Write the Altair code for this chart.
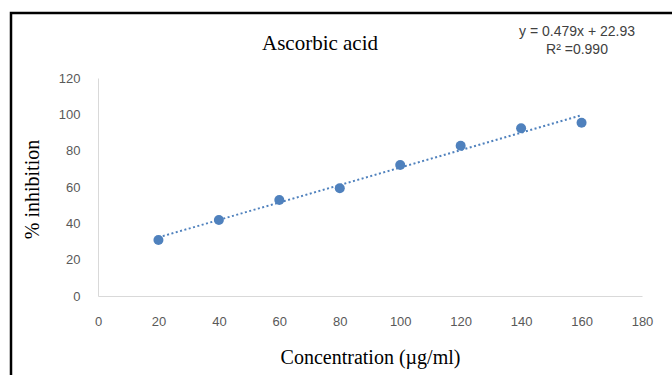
import altair as alt
import pandas as pd

concentration = [20, 40, 60, 80, 100, 120, 140, 160]
inhibition = [30.8, 41.8, 52.8, 59.3, 72.1, 82.7, 92.3, 95.4]
x_ticks = [0, 20, 40, 60, 80, 100, 120, 140, 160, 180]
y_ticks = [0, 20, 40, 60, 80, 100, 120]
chart_title = "Ascorbic acid"
equation_lines = ["y = 0.479x + 22.93", "R² =0.990"]

df = pd.DataFrame({"conc": concentration, "inh": inhibition})

BLUE = "#4f81bd"
W, H = 544, 218
PL, PT = 98, 78

x_enc = alt.X("conc:Q", scale=alt.Scale(domain=[0, 180], nice=False, zero=True),
              axis=alt.Axis(values=x_ticks, title="Concentration (µg/ml)", grid=False,
                            ticks=False, domainColor="#d9d9d9", labelColor="#595959",
                            labelFont="Liberation Sans", labelFontSize=13, labelPadding=19,
                            labelFlush=False,
                            titleFont="Liberation Serif", titleFontSize=20, titleFontWeight="normal",
                            titleColor="#000000", titleY=61, titleBaseline="middle"))
y_enc = alt.Y("inh:Q", scale=alt.Scale(domain=[0, 120], nice=False),
              axis=alt.Axis(values=y_ticks, title="% inhibition", grid=False,
                            ticks=False, domainColor="#d9d9d9", labelColor="#595959",
                            labelFont="Liberation Sans", labelFontSize=13, labelPadding=18,
                            labelFlush=False,
                            titleFont="Liberation Serif", titleFontSize=20, titleFontWeight="normal",
                            titleColor="#000000", titleX=-66, titleY=111, titleBaseline="middle",
                            titleAngle=270))

base = alt.Chart(df)

trend = base.transform_regression("conc", "inh", extent=[20, 160]).mark_line(
    color=BLUE, strokeWidth=2, strokeDash=[2, 2.5]
).encode(x=x_enc, y=y_enc)

points = base.mark_point(filled=True, color=BLUE, size=100, opacity=1).encode(x=x_enc, y=y_enc)

title_df = pd.DataFrame({"t": [chart_title]})
title = alt.Chart(title_df).mark_text(
    font="Liberation Serif", fontSize=21, color="#000000", align="center", baseline="alphabetic"
).encode(text="t:N", x=alt.value(320 - PL), y=alt.value(50 - PT))

eq_df = pd.DataFrame({"t": [equation_lines[0]]})
eq1 = alt.Chart(eq_df).mark_text(
    font="Liberation Sans", fontSize=14, color="#404040", align="center", baseline="middle"
).encode(text="t:N", x=alt.value(577 - PL), y=alt.value(32 - PT))
eq2_df = pd.DataFrame({"t": [equation_lines[1]]})
eq2 = alt.Chart(eq2_df).mark_text(
    font="Liberation Sans", fontSize=14, color="#404040", align="center", baseline="middle"
).encode(text="t:N", x=alt.value(577 - PL), y=alt.value(50 - PT))

border = alt.Chart(pd.DataFrame({"a": [0]})).mark_rect(
    fill=None, stroke="#000000", strokeWidth=2.5, fillOpacity=0
).encode(x=alt.value(11 - PL), x2=alt.value(690 - PL), y=alt.value(13 - PT), y2=alt.value(395 - PT))

chart = alt.layer(border, trend, points, title, eq1, eq2).properties(
    width=W, height=H,
    padding={"left": PL, "top": PT, "right": 672 - PL - W, "bottom": 375 - PT - H},
    autosize=alt.AutoSizeParams(type="none"),
    background="white",
).configure_view(stroke=None)

chart.save("out.html", embed_options={"renderer": "svg", "actions": False})
